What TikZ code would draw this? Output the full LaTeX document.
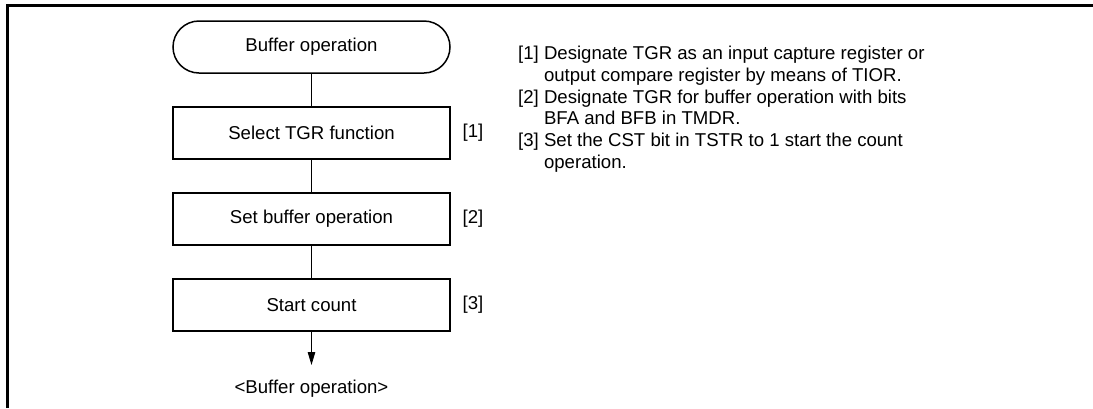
\documentclass[tikz,border=0pt]{standalone}
\usepackage{fontspec}
\setmainfont{Liberation Sans}
\usetikzlibrary{arrows.meta,positioning}

\tikzset{
procbox/.style={draw, line width=1.5pt, minimum width=277pt, minimum height=52pt, inner sep=0pt, outer sep=0pt},
termbox/.style={procbox, rounded corners=26pt},
numlabel/.style={inner sep=0pt},
flowline/.style={line width=0.9pt}
}

\begin{document}
\begin{tikzpicture}[font=\fontsize{18.6}{21.7}\selectfont]
\useasboundingbox (0,0) rectangle (1093pt,-408pt);
% frame (top and left only)
\draw[line width=2.5pt] (7.3pt,-408pt) -- (7.3pt,-5.3pt) -- (1093pt,-5.3pt);

\node[termbox] (start) at (311.5pt,-47pt) {Buffer operation};
\node[procbox, below=34pt of start] (selfunc) {Select TGR function};
\node[procbox, below=34pt of selfunc] (setbuf) {Set buffer operation};
\node[procbox, below=34pt of setbuf] (startcnt) {Start count};
\node[inner sep=0pt, anchor=north] (endlbl) at (311.5pt,-380pt) {<Buffer operation>};

\node[numlabel, right=12.5pt of selfunc] (n1) {[1]};
\node[numlabel, right=12.5pt of setbuf] (n2) {[2]};
\node[numlabel, right=12.5pt of startcnt] (n3) {[3]};

\draw[flowline] (start) -- (selfunc);
\draw[flowline] (selfunc) -- (setbuf);
\draw[flowline] (setbuf) -- (startcnt);
\draw[flowline, -{Triangle[length=13pt,width=7.5pt]}, shorten >=15pt] (startcnt) -- (endlbl);

% notes
\node[anchor=north west, inner sep=0pt] (notes) at (518pt,-44.4pt) {%
\begin{tabular}{@{}l@{\ }l@{}}
{[1]} & Designate TGR as an input capture register or\\
 & output compare register by means of TIOR.\\
{[2]} & Designate TGR for buffer operation with bits\\
 & BFA and BFB in TMDR.\\
{[3]} & Set the CST bit in TSTR to 1 start the count\\
 & operation.
\end{tabular}};
\end{tikzpicture}
\end{document}
